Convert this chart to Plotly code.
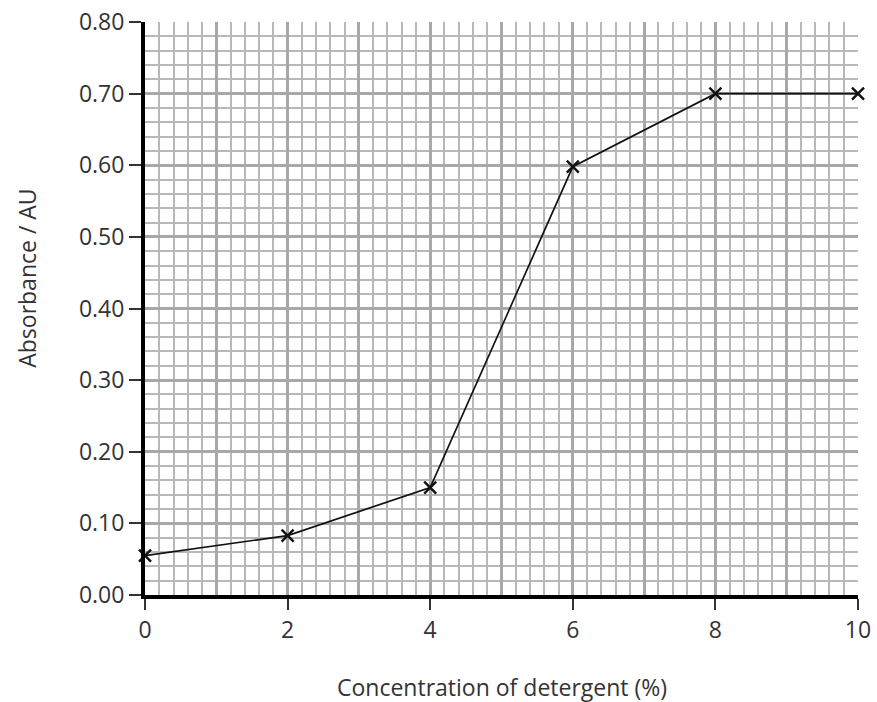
import plotly.graph_objects as go

concentration = [0, 2, 4, 6, 8, 10]
absorbance = [0.055, 0.083, 0.15, 0.598, 0.70, 0.70]
x_ticks = [0, 2, 4, 6, 8, 10]
y_ticks = [0.0, 0.1, 0.2, 0.3, 0.4, 0.5, 0.6, 0.7, 0.8]
x_title = "Concentration of detergent (%)"
y_title = "Absorbance / AU"

font_family = "Open Sans, Noto Sans, sans-serif"
text_color = "#333333"
grid_minor = "#b8b8b8"
grid_major = "#a8a8a8"

fig = go.Figure()
fig.add_trace(go.Scatter(
    x=concentration, y=absorbance, mode="lines+markers",
    line=dict(color="#111111", width=1.7),
    marker=dict(symbol="x-thin", size=12, line=dict(color="#111111", width=2.4)),
    showlegend=False, cliponaxis=False,
))
# invisible trace on overlay axis to enable bold grid each unit
fig.add_trace(go.Scatter(x=[0, 10], y=[0, 0.8], xaxis="x2", mode="none",
                         showlegend=False, hoverinfo="skip"))

fig.update_layout(
    width=877, height=702,
    margin=dict(l=145, r=19, t=22, b=107),
    paper_bgcolor="white", plot_bgcolor="white",
    font=dict(family=font_family, size=23, color=text_color),
    xaxis=dict(
        range=[0, 10], tickvals=x_ticks, ticks="outside", ticklen=11, tickwidth=1.5,
        tickcolor=text_color, showline=True, linecolor="black", linewidth=4,
        showgrid=True, gridcolor=grid_major, gridwidth=3, zeroline=False,
        minor=dict(dtick=0.2, showgrid=True, gridcolor=grid_minor, gridwidth=1.7, ticks=""),
        automargin=False, tickfont=dict(size=23), ticklabeloverflow="allow",
    ),
    xaxis2=dict(
        range=[0, 10], overlaying="x", dtick=1, showticklabels=False, ticks="",
        showgrid=True, gridcolor=grid_major, gridwidth=3, zeroline=False, showline=False,
        automargin=False,
    ),
    yaxis=dict(
        range=[0, 0.8], tickvals=y_ticks, tickformat=".2f", ticks="outside", ticklen=12,
        tickwidth=1.5, tickcolor=text_color, showline=True, linecolor="black", linewidth=4,
        showgrid=True, gridcolor=grid_major, gridwidth=3, zeroline=False,
        minor=dict(dtick=0.02, showgrid=True, gridcolor=grid_minor, gridwidth=1.7, ticks=""),
        automargin=False, tickfont=dict(size=23), ticklabeloverflow="allow",
    ),
    annotations=[
        dict(text=x_title, xref="paper", yref="paper", x=0.5, y=-0.16,
             xanchor="center", yanchor="middle", showarrow=False,
             font=dict(size=23, color=text_color)),
        dict(text=y_title, xref="paper", yref="paper", x=-0.166, y=0.553,
             xanchor="center", yanchor="middle", textangle=-90, showarrow=False,
             font=dict(size=23, color=text_color)),
    ],
)

fig.write_html("out.html", config={"displayModeBar": False})

# remove the browser's default page margin so the figure fills the window exactly
with open("out.html", "r", encoding="utf-8") as f:
    html = f.read()
html = html.replace("<head>", "<head><style>html,body{margin:0;padding:0;overflow:hidden;}</style>", 1)
with open("out.html", "w", encoding="utf-8") as f:
    f.write(html)
